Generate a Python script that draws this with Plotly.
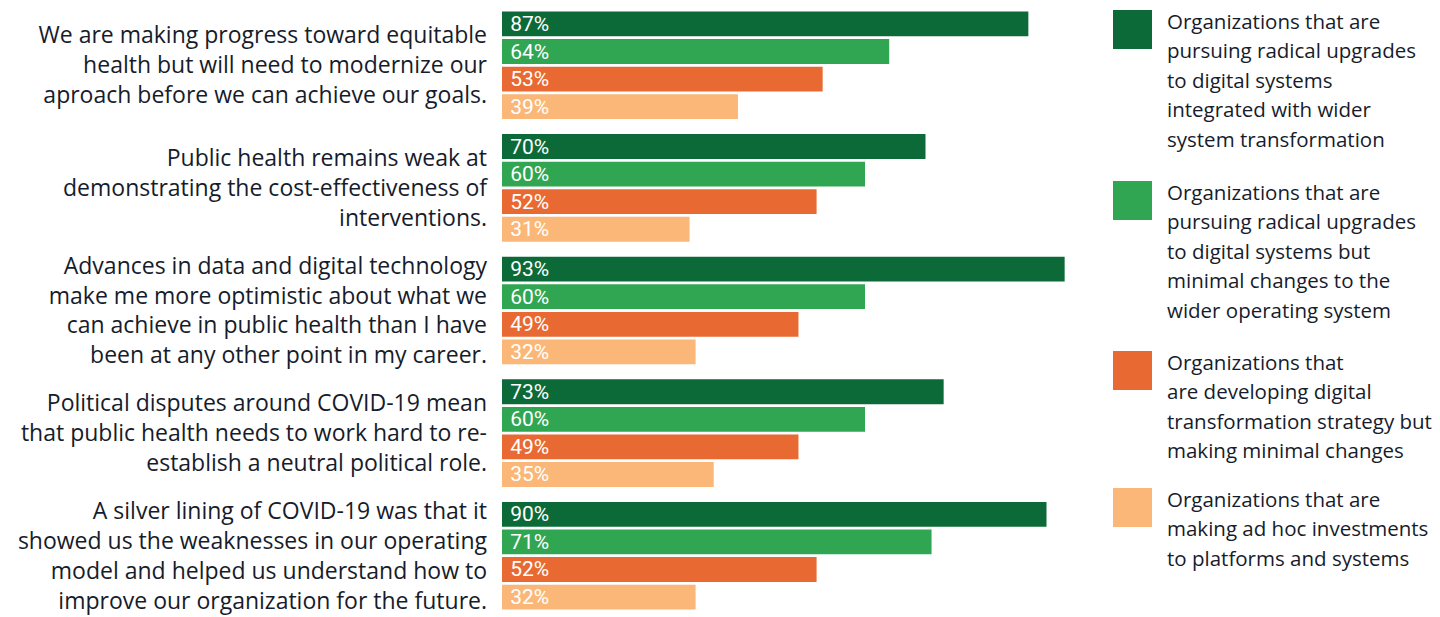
import plotly.graph_objects as go

# Survey statements (y categories), top to bottom
statements = [
    "We are making progress toward equitable<br>health but will need to modernize our<br>aproach before we can achieve our goals.",
    "Public health remains weak at<br>demonstrating the cost-effectiveness of<br>interventions.",
    "Advances in data and digital technology<br>make me more optimistic about what we<br>can achieve in public health than I have<br>been at any other point in my career.",
    "Political disputes around COVID-19 mean<br>that public health needs to work hard to re-<br>establish a neutral political role.",
    "A silver lining of COVID-19 was that it<br>showed us the weaknesses in our operating<br>model and helped us understand how to<br>improve our organization for the future.",
]
statement_keys = ["s1", "s2", "s3", "s4", "s5"]

# Share agreeing (%) for each organization type
radical_integrated = [87, 70, 93, 73, 90]
radical_minimal = [64, 60, 60, 60, 71]
developing_strategy = [53, 52, 49, 49, 52]
ad_hoc = [39, 31, 32, 35, 32]

series_names = [
    ["Organizations that are", "pursuing radical upgrades", "to digital systems",
     "integrated with wider", "system transformation"],
    ["Organizations that are", "pursuing radical upgrades", "to digital systems but",
     "minimal changes to the", "wider operating system"],
    ["Organizations that", "are developing digital", "transformation strategy but",
     "making minimal changes"],
    ["Organizations that are", "making ad hoc investments", "to platforms and systems"],
]
series_values = [radical_integrated, radical_minimal, developing_strategy, ad_hoc]
series_colors = ["#0c6a39", "#31a652", "#e86a32", "#fbb777"]

W, H = 1440, 617
ML, MR, MT, MB = 502, 333, 4, 0
TEXT_COLOR = "#161c2b"

fig = go.Figure()
for vals, name, color in zip(series_values, series_names, series_colors):
    fig.add_trace(go.Bar(
        x=vals,
        y=statement_keys,
        orientation="h",
        name=" ".join(name),
        marker=dict(color=color, line=dict(width=0)),
        texttemplate="\u00a0%{x}%",
        textposition="inside",
        insidetextanchor="start",
        constraintext="none",
        textfont=dict(family="Roboto", size=21, color="white"),
        hoverinfo="skip",
        showlegend=False,
    ))

# Legend drawn as large swatches with multi-line captions
def px_x(p):
    return (p - ML) / (W - ML - MR)

def px_y(p):
    return (H - MB - p) / (H - MT - MB)

legend_tops = [10, 181, 351, 488]
SWATCH = 39
LINE_STEP = 29.4
shapes, annotations = [], []
for top, lines, color in zip(legend_tops, series_names, series_colors):
    shapes.append(dict(
        type="rect", xref="paper", yref="paper",
        x0=px_x(1113), x1=px_x(1113 + SWATCH),
        y0=px_y(top + SWATCH), y1=px_y(top),
        fillcolor=color, line=dict(width=0), layer="above",
    ))
    for k, line in enumerate(lines):
        annotations.append(dict(
            xref="paper", yref="paper",
            x=px_x(1165), y=px_y(top + 11 + k * LINE_STEP),
            xanchor="left", yanchor="middle",
            text=line, showarrow=False,
            font=dict(family="Open Sans", size=20.5, color=TEXT_COLOR),
        ))

fig.update_layout(
    width=W, height=H,
    margin=dict(l=ML, r=MR, t=MT, b=MB, autoexpand=False),
    paper_bgcolor="white", plot_bgcolor="white",
    barmode="group", bargap=0.1, bargroupgap=0.1,
    shapes=shapes, annotations=annotations,
    xaxis=dict(range=[0, 100], visible=False, fixedrange=True),
    yaxis=dict(
        autorange="reversed",
        tickmode="array", tickvals=statement_keys, ticktext=statements,
        showgrid=False, zeroline=False, showline=False,
        ticks="", ticklabelstandoff=14,
        tickfont=dict(family="Open Sans", size=23, color=TEXT_COLOR),
        automargin=False, fixedrange=True,
    ),
    font=dict(family="Open Sans", color=TEXT_COLOR),
)

fig.write_html("out.html", config={"displayModeBar": False})
